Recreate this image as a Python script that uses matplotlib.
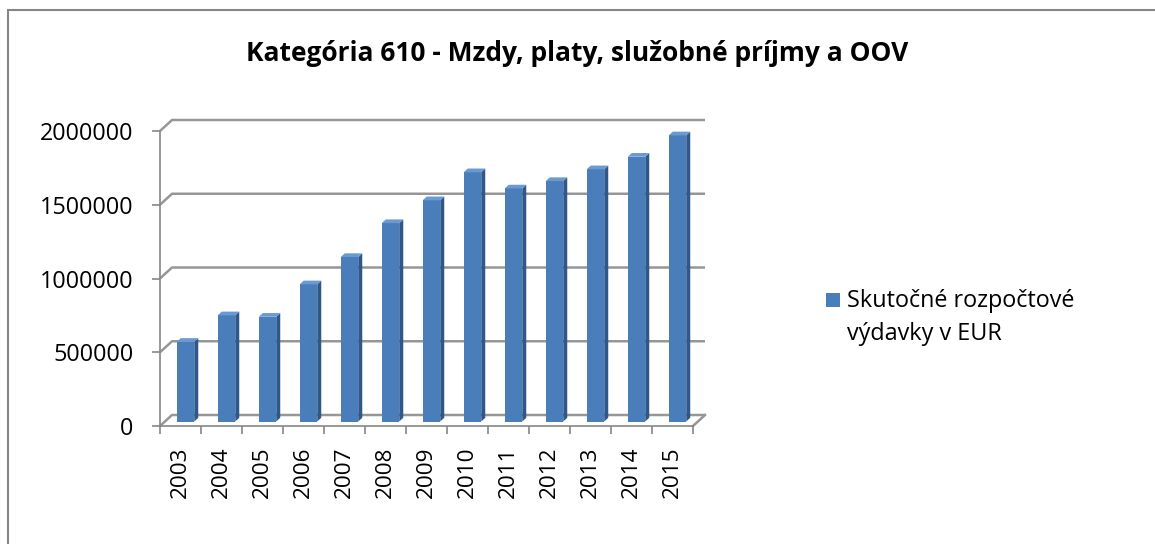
import matplotlib
matplotlib.use('Agg')
import matplotlib.pyplot as plt
from matplotlib.patches import Rectangle, Polygon
import numpy as np

# data
years = ['2003', '2004', '2005', '2006', '2007', '2008', '2009',
         '2010', '2011', '2012', '2013', '2014', '2015']
spending = [540000, 720000, 710000, 930000, 1115000, 1345000, 1500000,
            1690000, 1580000, 1630000, 1710000, 1795000, 1940000]
y_ticks = [0, 500000, 1000000, 1500000, 2000000]
title = 'Kategória 610 - Mzdy, platy, služobné príjmy a OOV'
series_lines = ['Skutočné rozpočtové', 'výdavky v EUR']

plt.rcParams['font.family'] = ['Open Sans', 'DejaVu Sans']

W, H = 1155, 544
fig = plt.figure(figsize=(W / 100, H / 100), dpi=100)


def fx(px):
    return px / W


def fy(py):
    return 1 - py / H


# outer chart border (only top and left visible in the crop)
fig.add_artist(Rectangle((fx(8), -0.1), 1.2, fy(10) + 0.1,
                         transform=fig.transFigure, fill=False,
                         edgecolor='#868686', lw=1.5))

fig.text(fx(577), fy(61), title, ha='center', va='baseline',
         fontsize=19, fontweight='bold')

ax = fig.add_axes([fx(160), fy(426), fx(693) - fx(160), fy(131) - fy(426)])
n = len(years)
ax.set_xlim(0, n)
ax.set_ylim(0, 2000000)
ax.patch.set_visible(False)

# pixel -> data unit helpers for the fake 3d depth
ux = n / 533
uy = 2000000 / 295
DX, DY = 12 * ux, 11 * uy

grid_col = '#969696'
for v in y_ticks:
    ax.plot([0, DX, n + DX], [v, v + DY, v + DY], color=grid_col, lw=1.8,
            clip_on=False, zorder=1, solid_capstyle='butt')
ax.plot([n, n + DX], [0, DY], color=grid_col, lw=1.8, clip_on=False, zorder=1)

# bars: front face through ax.bar, side and top faces from the same values
sx, sy = 5 * ux, 4.5 * uy
bw = 17.5 * ux
ddx, ddy = 4 * ux, 3.7 * uy
xs = np.arange(n) + 0.5 + sx
ax.bar(xs, spending, width=bw, bottom=sy, color='#4a7ebb', zorder=3,
       clip_on=False)
for x, v in zip(xs, spending):
    r = x + bw / 2
    l = x - bw / 2
    top = sy + v
    ax.add_patch(Polygon([(r, sy), (r + ddx, sy + ddy), (r + ddx, top + ddy), (r, top)],
                         closed=True, facecolor='#30578a', edgecolor='none',
                         zorder=3, clip_on=False))
    ax.add_patch(Polygon([(l, top), (l + ddx, top + ddy), (r + ddx, top + ddy), (r, top)],
                         closed=True, facecolor='#6a9ad4', edgecolor='none',
                         zorder=3, clip_on=False))

for s in ['top', 'right']:
    ax.spines[s].set_visible(False)
for s in ['left', 'bottom']:
    ax.spines[s].set_color('#868686')
    ax.spines[s].set_linewidth(1.2)

ax.set_yticks(y_ticks)
ax.set_yticklabels([str(v) for v in y_ticks])
ax.tick_params(axis='y', length=5.8, width=1.2, color='#868686', pad=13.5,
               labelsize=16.8)

ax.set_xticks(np.arange(n + 1))
ax.set_xticklabels([])
ax.tick_params(axis='x', which='major', length=5.8, width=1.2, color='#868686')
ax.set_xticks(np.arange(n) + 0.5, minor=True)
ax.set_xticklabels(years, minor=True, rotation=90, fontsize=16.2)
ax.tick_params(axis='x', which='minor', length=0, pad=15)

# legend, drawn by hand so the swatch sits on the first text line
fig.add_artist(Rectangle((fx(826), fy(307)), 14 / W, 14 / H,
                         transform=fig.transFigure, facecolor='#4a7ebb',
                         edgecolor='none'))
for i, line in enumerate(series_lines):
    fig.text(fx(847), fy(307 + 33 * i), line, ha='left', va='baseline',
             fontsize=16.8)

fig.savefig('out.png', dpi=100)
